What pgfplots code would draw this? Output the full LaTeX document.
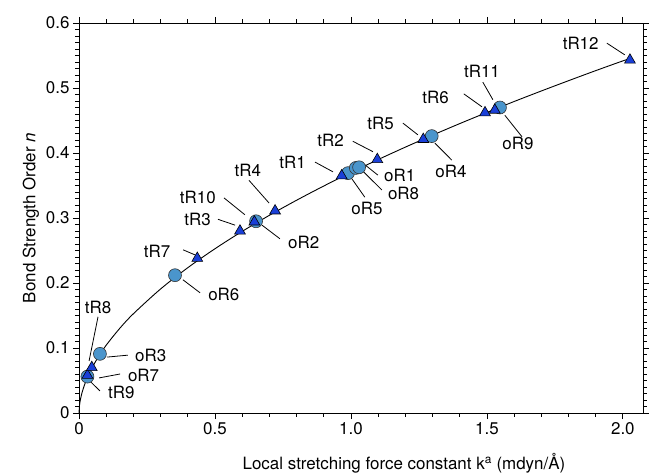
\documentclass[border=0pt]{standalone}
\usepackage{fontspec}
\setmainfont{TeX Gyre Heros}
\usepackage{pgfplots}
\pgfplotsset{compat=1.18}
\definecolor{ocirc}{HTML}{4A95CC}
\definecolor{ttri}{HTML}{1A3FD8}

\tikzset{lbl/.style={font=\fontsize{17}{20}\selectfont, inner sep=1pt}}
% leader line from a label towards its marker
\newcommand{\leader}[4]{\draw[black, line width=0.8pt] (axis cs:#1,#2) -- (axis cs:#3,#4);}

\begin{document}
\begin{tikzpicture}
\begin{axis}[
  scale only axis, width=564bp, height=390bp,
  xmin=0, xmax=2.074, ymin=0, ymax=0.6,
  xtick={0,0.5,1,1.5,2}, xticklabels={0,0.5,1.0,1.5,2.0},
  ytick={0,0.1,0.2,0.3,0.4,0.5,0.6},
  yticklabels={0,0.1,0.2,0.3,0.4,0.5,0.6},
  minor x tick num=4, minor y tick num=9,
  tick align=outside,
  major tick length=6bp, minor tick length=3.5bp,
  tick style={black, line width=0.8pt},
  axis line style={line width=0.9pt},
  ticklabel style={font=\fontsize{17}{20}\selectfont},
  label style={font=\fontsize{17}{20}\selectfont},
  xlabel={Local stretching force constant k\textsuperscript{a} (mdyn/Å)},
  xlabel style={at={(axis cs:1.195,0)}, anchor=center, yshift=-50bp},
  ylabel={Bond Strength Order \textit{n}},
  clip=false,
]

% oR series (circles)
\addplot[only marks, mark=*, mark size=6.5pt,
  mark options={fill=ocirc, draw=black!80, line width=0.6pt}]
  coordinates {
    (0.031,0.056) (0.077,0.091) (0.353,0.212) (0.651,0.295)
    (0.989,0.369) (1.018,0.377) (1.030,0.378) (1.297,0.426)
    (1.548,0.470)
  };

% tR series (triangles)
\addplot[only marks, mark=triangle*, mark size=6.3pt,
  mark options={fill=ttri, draw=black, line width=0.6pt}]
  coordinates {
    (0.031,0.058) (0.047,0.070) (0.435,0.238) (0.592,0.280)
    (0.645,0.294) (0.721,0.311) (0.966,0.365) (1.097,0.390)
    (1.266,0.421) (1.493,0.462) (1.529,0.466) (2.026,0.543)
  };

% power-law trend line through both sets
\addplot[black, line width=0.9pt, smooth] coordinates {
  (0,0) (0.002,0.0121) (0.005,0.0201) (0.01,0.0294) (0.02,0.0430)
  (0.04,0.0630) (0.07,0.0857) (0.1,0.1043) (0.15,0.1303) (0.2,0.1527)
  (0.3,0.1908) (0.4,0.2235) (0.5,0.2527) (0.6,0.2794) (0.7,0.3041)
  (0.8,0.3273) (0.9,0.3492) (1.0,0.3700) (1.1,0.3899) (1.2,0.4090)
  (1.3,0.4274) (1.4,0.4452) (1.5,0.4624) (1.6,0.4792) (1.7,0.4954)
  (1.8,0.5112) (1.9,0.5267) (2.0,0.5417) (2.026,0.5450)
};

% labels
\node[lbl, anchor=center] at (axis cs:0.070,0.163) {tR8};
\leader{0.070}{0.148}{0.037}{0.080}
\node[lbl, anchor=west] at (axis cs:0.202,0.088) {oR3};
\leader{0.103}{0.086}{0.180}{0.089}
\node[lbl, anchor=west] at (axis cs:0.176,0.058) {oR7};
\leader{0.074}{0.054}{0.151}{0.060}
\node[lbl, anchor=west] at (axis cs:0.103,0.031) {tR9};
\leader{0.033}{0.052}{0.077}{0.034}

\node[lbl, anchor=east] at (axis cs:0.340,0.248) {tR7};
\leader{0.383}{0.251}{0.428}{0.243}
\node[lbl, anchor=west] at (axis cs:0.471,0.183) {oR6};
\leader{0.382}{0.205}{0.445}{0.185}
\node[lbl, anchor=east] at (axis cs:0.507,0.332) {tR10};
\leader{0.533}{0.331}{0.610}{0.305}
\node[lbl, anchor=east] at (axis cs:0.489,0.298) {tR3};
\leader{0.511}{0.298}{0.574}{0.289}
\node[lbl, anchor=center] at (axis cs:0.621,0.374) {tR4};
\leader{0.625}{0.358}{0.699}{0.323}
\node[lbl, anchor=west] at (axis cs:0.765,0.263) {oR2};
\leader{0.673}{0.289}{0.739}{0.268}

\node[lbl, anchor=east] at (axis cs:0.838,0.386) {tR1};
\leader{0.868}{0.386}{0.934}{0.371}
\node[lbl, anchor=east] at (axis cs:0.978,0.420) {tR2};
\leader{1.007}{0.418}{1.081}{0.402}
\node[lbl, anchor=west] at (axis cs:1.118,0.365) {oR1};
\leader{1.051}{0.382}{1.099}{0.366}
\node[lbl, anchor=west] at (axis cs:1.132,0.338) {oR8};
\leader{1.044}{0.372}{1.114}{0.343}
\node[lbl, anchor=center] at (axis cs:1.059,0.314) {oR5};
\leader{1.004}{0.360}{1.051}{0.332}

\node[lbl, anchor=east] at (axis cs:1.162,0.446) {tR5};
\leader{1.191}{0.446}{1.246}{0.428}
\node[lbl, anchor=center] at (axis cs:1.368,0.371) {oR4};
\leader{1.309}{0.415}{1.371}{0.389}

\node[lbl, anchor=east] at (axis cs:1.364,0.486) {tR6};
\leader{1.415}{0.491}{1.482}{0.471}
\node[lbl, anchor=center] at (axis cs:1.482,0.526) {tR11};
\leader{1.485}{0.509}{1.522}{0.482}
\node[lbl, anchor=center] at (axis cs:1.614,0.414) {oR9};
\leader{1.566}{0.458}{1.629}{0.425}

\node[lbl, anchor=east] at (axis cs:1.915,0.569) {tR12};
\leader{1.941}{0.569}{2.007}{0.551}
\end{axis}
\pgfresetboundingbox
\path[use as bounding box] (-79bp,-62bp) rectangle (570bp,413bp);
\end{tikzpicture}
\end{document}
